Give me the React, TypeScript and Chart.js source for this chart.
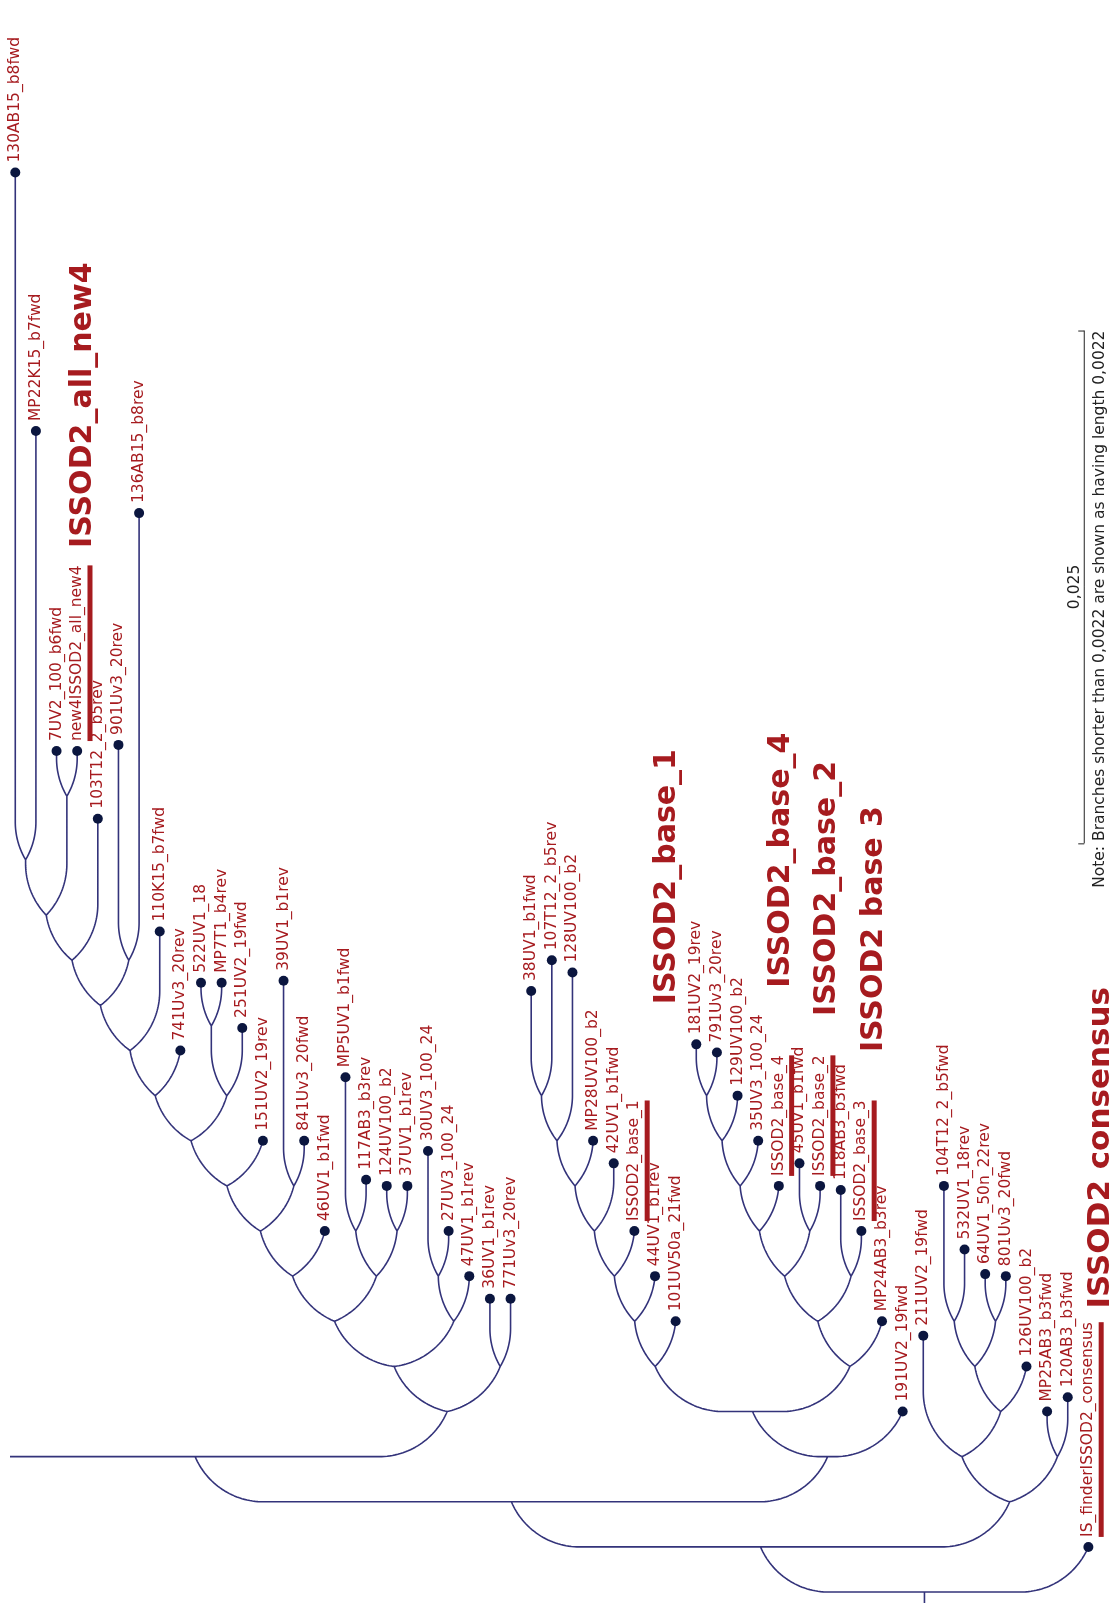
import React, { useEffect, useRef } from "react";
import { Chart, registerables } from "chart.js";

Chart.register(...registerables);

// Leaves in display order, left to right.
const leafNames: string[] = [
  "130AB15_b8fwd", "MP22K15_b7fwd", "7UV2_100_b6fwd", "new4ISSOD2_all_new4", "103T12_2_b5rev",
  "901Uv3_20rev", "136AB15_b8rev", "110K15_b7fwd", "741Uv3_20rev", "522UV1_18",
  "MP7T1_b4rev", "251UV2_19fwd", "151UV2_19rev", "39UV1_b1rev", "841Uv3_20fwd",
  "46UV1_b1fwd", "MP5UV1_b1fwd", "117AB3_b3rev", "124UV100_b2", "37UV1_b1rev",
  "30UV3_100_24", "27UV3_100_24", "47UV1_b1rev", "36UV1_b1rev", "771Uv3_20rev",
  "38UV1_b1fwd", "107T12_2_b5rev", "128UV100_b2", "MP28UV100_b2", "42UV1_b1fwd",
  "ISSOD2_base_1", "44UV1_b1rev", "101UV50a_21fwd", "181UV2_19rev", "791Uv3_20rev",
  "129UV100_b2", "35UV3_100_24", "ISSOD2_base_4", "45UV1_b1fwd", "ISSOD2_base_2",
  "118AB3_b3fwd", "ISSOD2_base_3", "MP24AB3_b3rev", "191UV2_19fwd", "211UV2_19fwd",
  "104T12_2_b5fwd", "532UV1_18rev", "64UV1_50n_22rev", "801Uv3_20fwd", "126UV100_b2",
  "MP25AB3_b3fwd", "120AB3_b3fwd", "IS_finderISSOD2_consensus",
];

// Root-to-tip distance of each leaf (substitutions per site).
const leafHeights: number[] = [
  0.0692, 0.0566, 0.041, 0.041, 0.0377,
  0.0413, 0.0526, 0.0322, 0.0264, 0.0297,
  0.0297, 0.0275, 0.022, 0.0298, 0.022,
  0.0176, 0.0251, 0.0201, 0.0198, 0.0198,
  0.0215, 0.0176, 0.0154, 0.0143, 0.0143,
  0.0293, 0.0308, 0.0302, 0.022, 0.0209,
  0.0176, 0.0154, 0.0132, 0.0267, 0.0263,
  0.0242, 0.022, 0.0198, 0.0209, 0.0198,
  0.0196, 0.0176, 0.0132, 0.0088, 0.0125,
  0.0198, 0.0167, 0.0155, 0.0154, 0.011,
  0.0088, 0.0095, 0.0022,
];

// Internal nodes: [id, first child, second child, distance from root].
const cladeNodes: [string, string, string, number][] = [
  ["c130", "130AB15_b8fwd", "MP22K15_b7fwd", 0.0357],
  ["c7uv", "7UV2_100_b6fwd", "new4ISSOD2_all_new4", 0.0388],
  ["z2", "c130", "c7uv", 0.033],
  ["z1", "z2", "103T12_2_b5rev", 0.0308],
  ["c901", "901Uv3_20rev", "136AB15_b8rev", 0.0308],
  ["z", "z1", "c901", 0.0286],
  ["y", "z", "110K15_b7fwd", 0.0264],
  ["w", "y", "741Uv3_20rev", 0.0242],
  ["c522", "522UV1_18", "MP7T1_b4rev", 0.0276],
  ["x", "c522", "251UV2_19fwd", 0.0242],
  ["v", "w", "x", 0.022],
  ["u", "v", "151UV2_19rev", 0.0198],
  ["c39", "39UV1_b1rev", "841Uv3_20fwd", 0.0198],
  ["t", "u", "c39", 0.0176],
  ["r", "t", "46UV1_b1fwd", 0.0154],
  ["cmp5", "MP5UV1_b1fwd", "117AB3_b3rev", 0.0176],
  ["c124", "124UV100_b2", "37UV1_b1rev", 0.0176],
  ["s", "cmp5", "c124", 0.0154],
  ["q", "r", "s", 0.0132],
  ["c30", "30UV3_100_24", "27UV3_100_24", 0.0154],
  ["c47", "c30", "47UV1_b1rev", 0.0132],
  ["p", "q", "c47", 0.011],
  ["c36", "36UV1_b1rev", "771Uv3_20rev", 0.011],
  ["l", "p", "c36", 0.0088],
  ["b", "trimmed", "l", 0.0066],
  ["c38", "38UV1_b1fwd", "107T12_2_b5rev", 0.0242],
  ["c128", "c38", "128UV100_b2", 0.022],
  ["cmp28", "c128", "MP28UV100_b2", 0.0198],
  ["c42", "cmp28", "42UV1_b1fwd", 0.0176],
  ["cb1", "c42", "ISSOD2_base_1", 0.0154],
  ["c44", "cb1", "44UV1_b1rev", 0.0132],
  ["n1", "c44", "101UV50a_21fwd", 0.011],
  ["c181", "181UV2_19rev", "791Uv3_20rev", 0.0242],
  ["c129", "c181", "129UV100_b2", 0.022],
  ["c35", "c129", "35UV3_100_24", 0.0198],
  ["cb4", "c35", "ISSOD2_base_4", 0.0176],
  ["c45", "45UV1_b1fwd", "ISSOD2_base_2", 0.0176],
  ["c45b", "cb4", "c45", 0.0154],
  ["c118", "118AB3_b3fwd", "ISSOD2_base_3", 0.0154],
  ["cbase", "c45b", "c118", 0.0132],
  ["n2", "cbase", "MP24AB3_b3rev", 0.011],
  ["m", "n1", "n2", 0.0088],
  ["a", "m", "191UV2_19fwd", 0.0066],
  ["d", "b", "a", 0.0044],
  ["c104", "104T12_2_b5fwd", "532UV1_18rev", 0.0132],
  ["c64", "64UV1_50n_22rev", "801Uv3_20fwd", 0.0132],
  ["c104b", "c104", "c64", 0.011],
  ["c126", "c104b", "126UV100_b2", 0.0088],
  ["c211", "211UV2_19fwd", "c126", 0.0066],
  ["cmp25", "MP25AB3_b3fwd", "120AB3_b3fwd", 0.0066],
  ["k", "c211", "cmp25", 0.0044],
  ["e", "d", "k", 0.0022],
  ["root", "e", "IS_finderISSOD2_consensus", 0],
];

// Sister lineage of clade "l" that runs on past the left edge.
const trimmedClade = { id: "trimmed", column: -3.5, height: 0.0088 };
const rootStubLength = 0.0022;

// Leaves whose labels carry a highlight underline.
const underlinedLeaves: string[] = [
  "new4ISSOD2_all_new4", "ISSOD2_base_1", "ISSOD2_base_4",
  "ISSOD2_base_2", "ISSOD2_base_3", "IS_finderISSOD2_consensus",
];

// Group captions.
const groupCaptions: string[] = [
  "ISSOD2_all_new4", "ISSOD2_base_1", "ISSOD2_base_4",
  "ISSOD2_base_2", "ISSOD2 base 3", "ISSOD2 consensus",
];

const scaleBarLength = 0.025;
const scaleBarLabel = "0,025";
const footnote = "Note: Branches shorter than 0,0022 are shown as having length 0,0022";

// ---- layout and styling ----
const W = 1120;
const H = 1603;
const X_MIN = -0.2557;
const X_MAX = 53.29;
const Y_MIN = -0.00029;
const Y_MAX = 0.07737;
const CORNER_RADIUS = 74;
const BRANCH_COLOR = "#33337a";
const DOT_COLOR = "#0b163f";
const LABEL_COLOR = "#a61b1f";
const LABEL_FONT = "15.5px 'DejaVu Sans'";
const LABEL_GAP = 10;
const CAPTION_PLACES = [
  { col: 3.31, h: 0.05786, size: 30 },
  { col: 31.6, h: 0.03488, size: 30 },
  { col: 37.1, h: 0.03568, size: 30 },
  { col: 39.32, h: 0.0343, size: 30 },
  { col: 41.6, h: 0.03232, size: 30 },
  { col: 52.6, h: 0.02166, size: 31 },
];
const SCALE_BAR_PLACE = { col: 51.8, h: 0.0365 };

type TreeNode = { id: string; col: number; h: number; kids: TreeNode[]; hidden?: boolean };

function buildTree() {
  const nodes = new Map<string, TreeNode>();
  leafNames.forEach((name, i) => nodes.set(name, { id: name, col: i, h: leafHeights[i], kids: [] }));
  nodes.set(trimmedClade.id, {
    id: trimmedClade.id, col: trimmedClade.column, h: trimmedClade.height, kids: [], hidden: true,
  });
  let last: TreeNode | null = null;
  for (const [id, a, b, h] of cladeNodes) {
    const A = nodes.get(a)!;
    const B = nodes.get(b)!;
    const node = { id, col: (A.col + B.col) / 2, h, kids: [A, B] };
    nodes.set(id, node);
    last = node;
  }
  return last!;
}

// Branch from parent to child: horizontal run, a circular bend of fixed radius, vertical run.
function branchPath(ctx: CanvasRenderingContext2D, xp: number, yp: number, xc: number, yc: number, R: number) {
  const s = xc >= xp ? 1 : -1;
  const dx = Math.abs(xc - xp);
  const dy = yp - yc;
  const pts: [number, number][] = [[0, 0]];
  const arc = (cx: number, cy: number, r: number, a0: number, a1: number) => {
    const n = 32;
    for (let i = 1; i <= n; i++) {
      const t = a0 + ((a1 - a0) * i) / n;
      pts.push([cx + r * Math.cos(t), cy + r * Math.sin(t)]);
    }
  };
  if (dx < 0.5 || dy <= 0) {
    pts.push([dx, dy]);
  } else if (dx >= R && dy >= R) {
    pts.push([dx - R, 0]);
    arc(dx - R, R, R, -Math.PI / 2, 0);
    pts.push([dx, dy]);
  } else {
    let done = false;
    if (dy < R) {
      const phi = Math.acos(1 - dy / R);
      const ex = R * Math.sin(phi);
      if (dx >= ex) {
        pts.push([dx - ex, 0]);
        arc(dx - ex, R, R, -Math.PI / 2, -Math.PI / 2 + phi);
        done = true;
      }
    }
    if (!done && dx < R) {
      const th = Math.acos(1 - dx / R);
      const ey = R * Math.sin(th);
      if (dy >= ey) {
        arc(dx - R, ey, R, Math.atan2(-ey, R - dx), 0);
        pts.push([dx, dy]);
        done = true;
      }
    }
    if (!done) {
      const c = Math.hypot(dx, dy);
      const r = Math.max(R, c / 2);
      const hh = Math.sqrt(Math.max(0, r * r - (c * c) / 4));
      const ox = dx / 2 - (dy / c) * hh;
      const oy = dy / 2 + (dx / c) * hh;
      const a0 = Math.atan2(-oy, -ox);
      let a1 = Math.atan2(dy - oy, dx - ox);
      if (a1 < a0) a1 += Math.PI * 2;
      arc(ox, oy, r, a0, a1);
    }
  }
  ctx.moveTo(xp, yp);
  for (const [u, w] of pts) ctx.lineTo(xp + s * u, yp - w);
}

const treeRoot = buildTree();

const treePlugin = {
  id: "treeBranches",
  beforeDatasetsDraw(chart: any) {
    const { ctx, chartArea, scales } = chart;
    const xs = scales.x;
    const ys = scales.y;
    ctx.save();
    ctx.beginPath();
    ctx.rect(chartArea.left, 0, chartArea.right - chartArea.left, chart.height);
    ctx.clip();
    ctx.strokeStyle = BRANCH_COLOR;
    ctx.lineWidth = 1.6;
    ctx.lineJoin = "round";
    ctx.beginPath();
    const walk = (node: TreeNode) => {
      const xp = xs.getPixelForValue(node.col);
      const yp = ys.getPixelForValue(node.h);
      for (const kid of node.kids) {
        branchPath(ctx, xp, yp, xs.getPixelForValue(kid.col), ys.getPixelForValue(kid.h), CORNER_RADIUS);
        walk(kid);
      }
    };
    walk(treeRoot);
    const rx = xs.getPixelForValue(treeRoot.col);
    ctx.moveTo(rx, ys.getPixelForValue(treeRoot.h));
    ctx.lineTo(rx, ys.getPixelForValue(treeRoot.h - rootStubLength));
    ctx.stroke();
    ctx.restore();
  },
  afterDatasetsDraw(chart: any) {
    const { ctx, scales } = chart;
    const xs = scales.x;
    const ys = scales.y;
    ctx.save();
    // leaf labels
    ctx.font = LABEL_FONT;
    ctx.fillStyle = LABEL_COLOR;
    ctx.textAlign = "left";
    ctx.textBaseline = "middle";
    leafNames.forEach((name, i) => {
      const px = xs.getPixelForValue(i);
      const py = ys.getPixelForValue(leafHeights[i]);
      ctx.save();
      ctx.translate(px, py - LABEL_GAP);
      ctx.rotate(-Math.PI / 2);
      ctx.fillText(name, 0, 0);
      ctx.restore();
    });
    // highlight underlines
    underlinedLeaves.forEach((name) => {
      const i = leafNames.indexOf(name);
      const px = xs.getPixelForValue(i);
      const py = ys.getPixelForValue(leafHeights[i]);
      const wText = ctx.measureText(name).width;
      ctx.save();
      ctx.translate(px, py - LABEL_GAP);
      ctx.rotate(-Math.PI / 2);
      ctx.fillRect(0, 10.3, wText, 5);
      ctx.restore();
    });
    // group captions
    ctx.textAlign = "center";
    groupCaptions.forEach((text, i) => {
      const place = CAPTION_PLACES[i];
      ctx.save();
      ctx.font = `bold ${place.size}px 'DejaVu Sans'`;
      ctx.translate(xs.getPixelForValue(place.col), ys.getPixelForValue(place.h));
      ctx.rotate(-Math.PI / 2);
      ctx.fillText(text, 0, 0);
      ctx.restore();
    });
    // scale bar ticks and texts
    const bx = xs.getPixelForValue(SCALE_BAR_PLACE.col);
    const by0 = ys.getPixelForValue(SCALE_BAR_PLACE.h);
    const by1 = ys.getPixelForValue(SCALE_BAR_PLACE.h + scaleBarLength);
    ctx.strokeStyle = "#222222";
    ctx.lineWidth = 1;
    ctx.beginPath();
    ctx.moveTo(bx - 6, by0 + 0.5);
    ctx.lineTo(bx, by0 + 0.5);
    ctx.moveTo(bx - 6, by1 + 0.5);
    ctx.lineTo(bx, by1 + 0.5);
    ctx.stroke();
    ctx.fillStyle = "#222222";
    ctx.font = LABEL_FONT;
    ctx.save();
    ctx.translate(bx, (by0 + by1) / 2);
    ctx.rotate(-Math.PI / 2);
    ctx.textAlign = "center";
    ctx.textBaseline = "bottom";
    ctx.fillText(scaleBarLabel, 0, -2);
    ctx.restore();
    ctx.save();
    ctx.translate(bx, by1);
    ctx.rotate(-Math.PI / 2);
    ctx.textAlign = "right";
    ctx.textBaseline = "top";
    ctx.fillText(footnote, 0, 8);
    ctx.restore();
    ctx.restore();
  },
};

export default function App() {
  const canvasRef = useRef<HTMLCanvasElement | null>(null);

  useEffect(() => {
    document.body.style.margin = "0";
    const canvas = canvasRef.current;
    if (!canvas) return;
    const chart = new Chart(canvas, {
      type: "scatter",
      data: {
        datasets: [
          {
            label: "leaves",
            data: leafNames.map((_, i) => ({ x: i, y: leafHeights[i] })),
            pointRadius: 5,
            pointHoverRadius: 5,
            pointBackgroundColor: DOT_COLOR,
            pointBorderWidth: 0,
            clip: false,
          },
          {
            label: "scale",
            data: [
              { x: SCALE_BAR_PLACE.col, y: SCALE_BAR_PLACE.h },
              { x: SCALE_BAR_PLACE.col, y: SCALE_BAR_PLACE.h + scaleBarLength },
            ],
            showLine: true,
            borderColor: "#222222",
            borderWidth: 1,
            pointRadius: 0,
            clip: false,
          },
        ],
      },
      options: {
        responsive: false,
        maintainAspectRatio: false,
        animation: false,
        devicePixelRatio: 1,
        events: [],
        layout: { padding: { left: 10, right: 0, top: 0, bottom: 0 } },
        plugins: { legend: { display: false }, tooltip: { enabled: false } },
        scales: {
          x: { type: "linear", min: X_MIN, max: X_MAX, display: false },
          y: { type: "linear", min: Y_MIN, max: Y_MAX, display: false },
        },
      },
      plugins: [treePlugin],
    });
    return () => chart.destroy();
  }, []);

  return <canvas ref={canvasRef} width={W} height={H} style={{ display: "block" }} />;
}
